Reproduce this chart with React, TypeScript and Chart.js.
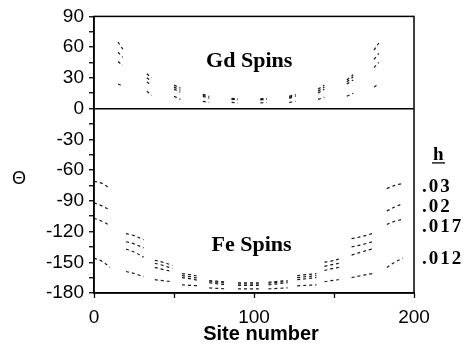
import { useEffect, useRef } from 'react';
import { Chart, registerables } from 'chart.js';
Chart.register(...registerables);

const hLabels = ['.03', '.02', '.017', '.012'];
const xTickLabels = [0, 100, 200];
const yTickLabels = [90, 60, 30, 0, -30, -60, -90, -120, -150, -180];

// Fe spin groups: sites (start, mid, end)
const feSites = [[0, 5, 10], [20, 25, 31], [38, 43, 49], [55, 60, 66], [72, 77, 83], [90, 96, 103], [109, 115, 121], [127, 133, 139], [144, 148, 153], [161, 167, 174], [183, 188, 193]];
const feH03 = [[-71, -73, -78], [-122, -124, -128], [-148, -150, -153], [-161, -162, -164], [-168, -168.5, -169.5], [-170, -170, -170], [-169.5, -168.5, -168], [-163, -162, -161], [-150, -149, -147], [-127, -125, -122], [-78, -75, -73]];
const feH02 = [[-92, -95, -99], [-130, -132, -136], [-151, -153, -156], [-163, -164, -166], [-169, -169.5, -170.5], [-171, -171, -171], [-170.5, -169.5, -169], [-165, -164, -163], [-154, -152.5, -151], [-135, -133, -130], [-100, -96, -93]];
const feH017 = [[-107, -110, -114], [-137, -140, -145], [-155, -157, -159], [-165, -166, -168], [-170, -171, -172], [-172.5, -172.5, -172.5], [-172, -171, -170], [-167, -166, -165], [-158, -156.5, -155], [-143, -140, -137], [-113, -110, -108]];
const feH012 = [[-146, -149, -155], [-159, -161, -164], [-167, -168, -169], [-172, -172.5, -173], [-175, -175.5, -176], [-176, -176, -176], [-176, -175.5, -175], [-173, -172.5, -172], [-169, -168, -167], [-165, -163, -161], [-155, -150, -146]];

// Gd spin groups: sites (start, end)
const gdSites = [[15, 18], [33, 36], [50, 54], [68, 72], [86, 90], [104, 108], [122, 126], [140, 144], [158, 162], [175, 178]];
const gdH03 = [[65, 58], [34, 30], [23, 20], [14, 12], [10, 9.5], [9.5, 10], [12, 14], [19, 23], [28, 33], [57, 64]];
const gdH02 = [[55, 50], [30, 27], [21, 18], [13, 11], [9.5, 9], [9, 9.5], [11, 13], [17, 21], [26, 31], [48, 54]];
const gdH017 = [[46, 42], [26, 23], [19, 16], [12, 10], [9, 8.5], [8.5, 9], [10, 12], [15, 19], [24, 28], [40, 45]];
const gdH012 = [[24, 22], [17, 13], [12, 9], [7, 6], [6, 5.5], [5.5, 6], [6, 7], [9, 11], [12, 15], [21, 24]];

function toPoints(sites: number[][], vals: number[][]) {
  const pts: { x: number; y: number | null }[] = [];
  sites.forEach((g, i) => {
    g.forEach((s, j) => pts.push({ x: s, y: vals[i][j] }));
    pts.push({ x: g[g.length - 1] + 0.5, y: null });
  });
  return pts;
}

const SANS = '"Liberation Sans", Arial, sans-serif';
const SERIF = '"Liberation Serif", "Times New Roman", serif';

const textPlugin = {
  id: 'texts',
  afterDraw(chart: any) {
    const { ctx, chartArea: a, scales } = chart;
    ctx.save();
    ctx.strokeStyle = '#000';
    ctx.lineWidth = 1.5;
    ctx.strokeRect(a.left, a.top, a.right - a.left, a.bottom - a.top);
    ctx.fillStyle = '#000';
    ctx.textAlign = 'center';
    ctx.textBaseline = 'alphabetic';
    ctx.font = `bold 22px ${SERIF}`;
    ctx.fillText('Gd Spins', scales.x.getPixelForValue(97), a.top + 51);
    ctx.fillText('Fe Spins', scales.x.getPixelForValue(98.5), a.top + 235);
    // axis titles
    ctx.font = `bold 20px ${SANS}`;
    ctx.fillText('Site number', 261, 340);
    ctx.font = `18px ${SANS}`;
    ctx.textBaseline = 'middle';
    ctx.fillText('\u0398', 19, 179);
    // legend
    ctx.textBaseline = 'alphabetic';
    ctx.textAlign = 'left';
    ctx.font = `bold 19px ${SERIF}`;
    const lx = a.right + 8;
    ctx.fillText('h', lx + 11, a.top + 144);
    ctx.lineWidth = 1.3;
    ctx.beginPath();
    ctx.moveTo(lx + 10, a.top + 146.5);
    ctx.lineTo(lx + 23, a.top + 146.5);
    ctx.stroke();
    try { (ctx as any).letterSpacing = '2px'; } catch (e) {}
    const ys = [176, 196, 216, 248];
    hLabels.forEach((t, i) => ctx.fillText(t, lx, a.top + ys[i]));
    ctx.restore();
  },
};

export default function App() {
  const ref = useRef<HTMLCanvasElement>(null);
  useEffect(() => {
    const ds = (data: any) => ({
      data,
      borderColor: '#1a1a1a',
      borderWidth: 1.2,
      borderDash: [3, 3],
      pointRadius: 0,
      spanGaps: false,
      tension: 0.35,
      fill: false,
    });
    const chart = new Chart(ref.current!, {
      type: 'line',
      data: {
        datasets: [
          ds(toPoints(feSites, feH03)),
          ds(toPoints(feSites, feH02)),
          ds(toPoints(feSites, feH017)),
          ds(toPoints(feSites, feH012)),
          ds(toPoints(gdSites, gdH03)),
          ds(toPoints(gdSites, gdH02)),
          ds(toPoints(gdSites, gdH017)),
          ds(toPoints(gdSites, gdH012)),
        ],
      },
      options: {
        responsive: false,
        animation: false,
        layout: { padding: { top: 12, right: 55, left: 0, bottom: 0 } },
        plugins: { legend: { display: false }, tooltip: { enabled: false } },
        scales: {
          x: {
            type: 'linear',
            min: 0,
            max: 200,
            afterFit: (s: any) => { s.height = 52; },
            ticks: {
              stepSize: 50,
              autoSkip: false,
              maxRotation: 0,
              padding: 8,
              color: '#000',
              font: { family: SANS, size: 19 },
              callback: (v: any) => (xTickLabels.includes(Number(v)) ? String(v) : ''),
            },
            grid: { drawOnChartArea: false, tickLength: 5, tickColor: '#000', tickWidth: 1.3 },
            border: { color: '#000', width: 1.5 },
          },
          y: {
            type: 'linear',
            min: -180,
            max: 90,
            afterFit: (s: any) => { s.width = 94; },
            ticks: {
              stepSize: 15,
              autoSkip: false,
              padding: 5,
              color: '#000',
              font: { family: SANS, size: 19 },
              callback: (v: any) => (yTickLabels.includes(Number(v)) ? String(v) : ''),
            },
            grid: {
              color: (c: any) => (c.tick && c.tick.value === 0 ? '#000' : 'rgba(0,0,0,0)'),
              lineWidth: 1.5,
              tickLength: 5,
              tickColor: '#000',
              tickWidth: 1.3,
            },
            border: { color: '#000', width: 1.5 },
          },
        },
      },
      plugins: [textPlugin],
    });
    return () => chart.destroy();
  }, []);
  return (
    <div style={{ position: 'fixed', left: 0, top: 0, width: 469, height: 345, background: '#fff' }}>
      <canvas ref={ref} width={469} height={345} style={{ display: 'block' }} />
    </div>
  );
}
